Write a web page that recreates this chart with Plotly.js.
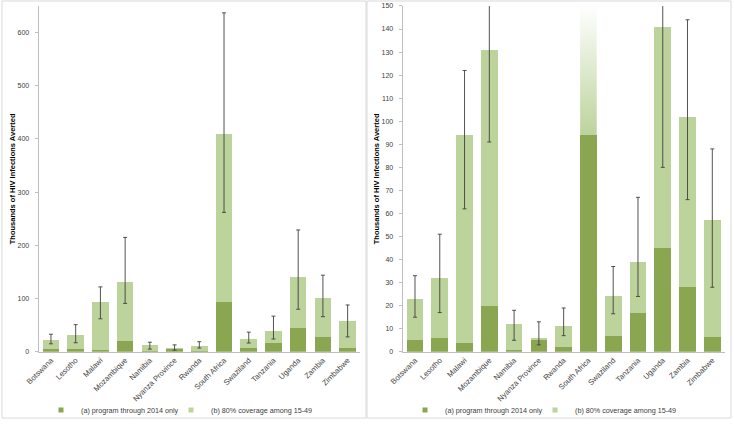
<!DOCTYPE html>
<html>
<head>
<meta charset="utf-8">
<script src="https://cdn.plot.ly/plotly-3.0.1.min.js"></script>
<style>
  html, body { margin: 0; padding: 0; background: #ffffff; }
  #chart { width: 734px; height: 425px; }
</style>
</head>
<body>
<div id="chart"></div>
<script>
// ---- data (thousands of HIV infections averted) ----
const categories = ['Botswana', 'Lesotho', 'Malawi', 'Mozambique', 'Namibia', 'Nyanza Province', 'Rwanda',
                    'South Africa', 'Swaziland', 'Tanzania', 'Uganda', 'Zambia', 'Zimbabwe'];
const programThrough2014 = [5, 6, 4, 20, 0.7, 5.2, 2, 94, 6.7, 17, 45, 28, 6.3];
const coverage80Total    = [23, 32, 94, 131, 12, 6.2, 11, 410, 24, 39, 141, 102, 57];
const errorLow           = [15, 17, 62, 91, 5, 3, 7, 262, 16.5, 24, 80, 66, 28];
const errorHigh          = [33, 51, 122, 215, 18, 13, 19, 637, 37, 67, 229, 144, 88];
const nameA = '(a) program through 2014 only';
const nameB = '(b) 80% coverage among 15-49';

// ---- styles ----
const DARK = '#8aa650';
const LIGHT = '#bcd39c';
const FONT = 'Liberation Sans, Arial, sans-serif';
const TXT = '#404040';
const BAR_W = 0.67;
const RIGHT_MAX = 150;

const idx = categories.map((_, i) => i);
const coverageExtra = coverage80Total.map((t, i) => t - programThrough2014[i]);
const errPlus = errorHigh.map((h, i) => h - coverage80Total[i]);
const errMinus = coverage80Total.map((t, i) => t - errorLow[i]);

function panelTraces(xa, ya, legA, legB, fadeIdx) {
  const lightColors = categories.map((c, i) => i === fadeIdx ? 'rgba(0,0,0,0)' : LIGHT);
  const traces = [
    { type: 'bar', x: idx, y: programThrough2014, name: nameA, width: BAR_W, legendgroup: xa + 'a',
      marker: { color: DARK, line: { width: 0 } }, xaxis: xa, yaxis: ya, showlegend: false, hoverinfo: 'y' },
    { type: 'bar', x: idx, y: coverageExtra, name: nameB, width: BAR_W, legendgroup: xa + 'b',
      marker: { color: lightColors, line: { width: 0 } }, xaxis: xa, yaxis: ya, showlegend: false, hoverinfo: 'y' }
  ];
  if (fadeIdx >= 0) {
    const x0 = fadeIdx - BAR_W / 2, x1 = fadeIdx + BAR_W / 2;
    const y0 = programThrough2014[fadeIdx];
    traces.push({ type: 'scatter', mode: 'lines', x: [x0, x1, x1, x0, x0], y: [y0, y0, RIGHT_MAX, RIGHT_MAX, y0],
      fill: 'toself', line: { width: 0, color: 'rgba(0,0,0,0)' },
      fillgradient: { type: 'vertical', colorscale: [[0, LIGHT], [1, '#ffffff']] },
      xaxis: xa, yaxis: ya, showlegend: false, hoverinfo: 'skip' });
  }
  traces.push({ type: 'scatter', mode: 'markers', x: idx, y: coverage80Total,
    marker: { size: 1, color: 'rgba(0,0,0,0)' },
    error_y: { type: 'data', symmetric: false, array: errPlus, arrayminus: errMinus,
               color: '#404040', thickness: 0.9, width: 2 },
    xaxis: xa, yaxis: ya, showlegend: false, hoverinfo: 'skip' });
  // legend entries (small square swatches like the original)
  traces.push({ type: 'scatter', mode: 'markers', x: [null], y: [null], name: nameA, legendgroup: xa + 'a',
    marker: { symbol: 'square', size: 5, color: DARK }, xaxis: xa, yaxis: ya, legend: legA, showlegend: true });
  traces.push({ type: 'scatter', mode: 'markers', x: [null], y: [null], name: nameB, legendgroup: xa + 'b',
    marker: { symbol: 'square', size: 5, color: LIGHT }, xaxis: xa, yaxis: ya, legend: legB, showlegend: true });
  return traces;
}

const saIdx = categories.indexOf('South Africa');
const data = [].concat(panelTraces('x', 'y', 'legend', 'legend2', -1),
                       panelTraces('x2', 'y2', 'legend3', 'legend4', saIdx));

const W = 734, H = 425;
const yDom = [(H - 354.3) / H, (H - 6) / H];

function xAxis(dom, anchor) {
  return {
    domain: dom, anchor: anchor, range: [-0.5, categories.length - 0.5],
    tickmode: 'array', tickvals: idx, ticktext: categories, tickangle: -45,
    tickfont: { family: FONT, size: 7.7, color: TXT },
    showline: true, linecolor: '#bfbfbf', linewidth: 1, ticks: '', showgrid: false, zeroline: false,
    fixedrange: true
  };
}
function yAxis(anchor, max, dtick) {
  return {
    domain: yDom, anchor: anchor, range: [0, max], dtick: dtick, tick0: 0,
    tickfont: { family: FONT, size: 7, color: TXT },
    showline: true, linecolor: '#bfbfbf', linewidth: 1, ticks: 'outside', ticklen: 3, tickcolor: '#bfbfbf',
    ticklabelstandoff: 4,
    showgrid: false, zeroline: false, fixedrange: true,
    title: { text: 'Thousands of HIV Infections Averted', font: { family: FONT, size: 7.5, color: '#000000', weight: 'bold' }, standoff: 0 }
  };
}

function legendAt(px) {
  return {
    orientation: 'h', yanchor: 'middle', xanchor: 'left', x: px / W, y: (H - 413) / H,
    font: { family: FONT, size: 7.2, color: TXT }, bgcolor: 'rgba(0,0,0,0)', itemwidth: 30
  };
}

const layout = {
  width: W, height: H, margin: { l: 0, r: 0, t: 0, b: 0 },
  paper_bgcolor: '#ffffff', plot_bgcolor: 'rgba(0,0,0,0)',
  barmode: 'stack',
  font: { family: FONT, size: 7.5, color: TXT },
  xaxis: xAxis([38.6 / W, 360 / W], 'y'),
  yaxis: yAxis('x', 650, 100),
  xaxis2: xAxis([402.6 / W, 724.7 / W], 'y2'),
  yaxis2: yAxis('x2', RIGHT_MAX, 10),
  legend: legendAt(41),
  legend2: legendAt(171),
  legend3: legendAt(405),
  legend4: legendAt(535),
  shapes: [
    { type: 'rect', xref: 'paper', yref: 'paper', x0: 2 / W, x1: 366 / W, y0: (H - 421) / H, y1: (H - 1) / H,
      line: { color: '#d9d9d9', width: 1 } },
    { type: 'rect', xref: 'paper', yref: 'paper', x0: 367 / W, x1: 731 / W, y0: (H - 421) / H, y1: (H - 1) / H,
      line: { color: '#d9d9d9', width: 1 } }
  ],
  showlegend: true
};

Plotly.newPlot('chart', data, layout, { displayModeBar: false, staticPlot: true });
</script>
</body>
</html>
